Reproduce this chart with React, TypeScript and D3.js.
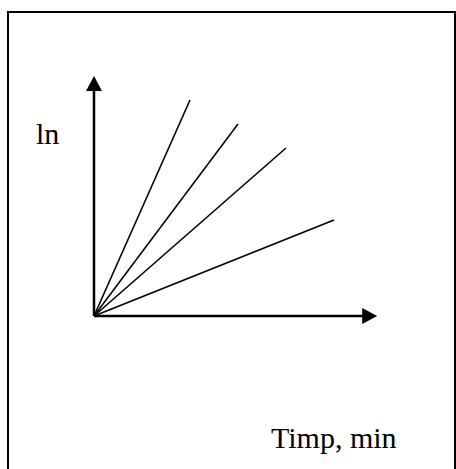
import * as d3 from "d3";

// Line end points (in axis units), all lines start at the origin
const lineEndX = [4, 6, 8, 10];
const lineEndY = [9, 8, 7, 4];

// Axis extents (arrow tips)
const xAxisMax = 11.8;
const yAxisMax = 10;

const yLabel = "ln";
const xLabel = "Timp, min";

const W = 456;
const H = 469;

export default function App() {
  // 24px per unit on both axes, origin at (94, 316)
  const xScale = d3.scaleLinear().domain([0, 10]).range([94, 334]);
  const yScale = d3.scaleLinear().domain([0, 10]).range([316, 76]);

  const line = d3
    .line<[number, number]>()
    .x((d) => xScale(d[0]))
    .y((d) => yScale(d[1]));

  const ox = xScale(0);
  const oy = yScale(0);
  const xTip = xScale(xAxisMax);
  const yTip = yScale(yAxisMax);
  const headLen = 15;
  const headHalf = 8;

  return (
    <div style={{ position: "absolute", left: 0, top: 0 }}>
      <svg width={W} height={H} style={{ display: "block", background: "#fff" }}>
        {/* frame */}
        <path
          d={`M8,${H + 5} L8,12 L455,12 L455,${H + 5}`}
          fill="none"
          stroke="#000"
          strokeWidth={2}
        />

        {/* lines from origin */}
        {lineEndX.map((x, i) => (
          <path
            key={i}
            d={line([[0, 0], [x, lineEndY[i]]]) || ""}
            fill="none"
            stroke="#000"
            strokeWidth={1.6}
          />
        ))}

        {/* axes */}
        <line x1={ox} y1={oy} x2={xTip - headLen + 1} y2={oy} stroke="#000" strokeWidth={2.5} />
        <line x1={ox} y1={oy} x2={ox} y2={yTip + headLen - 1} stroke="#000" strokeWidth={2.5} />
        <path
          d={`M${xTip},${oy} L${xTip - headLen},${oy - headHalf} L${xTip - headLen},${oy + headHalf} Z`}
          fill="#000"
        />
        <path
          d={`M${ox},${yTip} L${ox - headHalf},${yTip + headLen} L${ox + headHalf},${yTip + headLen} Z`}
          fill="#000"
        />

        {/* labels */}
        <text
          x={36}
          y={144}
          fontFamily="'Liberation Serif', 'Times New Roman', serif"
          fontSize={30}
          fill="#000"
        >
          {yLabel}
        </text>
        <text
          x={271}
          y={448}
          fontFamily="'Liberation Serif', 'Times New Roman', serif"
          fontSize={30}
          fill="#000"
        >
          {xLabel}
        </text>
      </svg>
    </div>
  );
}
